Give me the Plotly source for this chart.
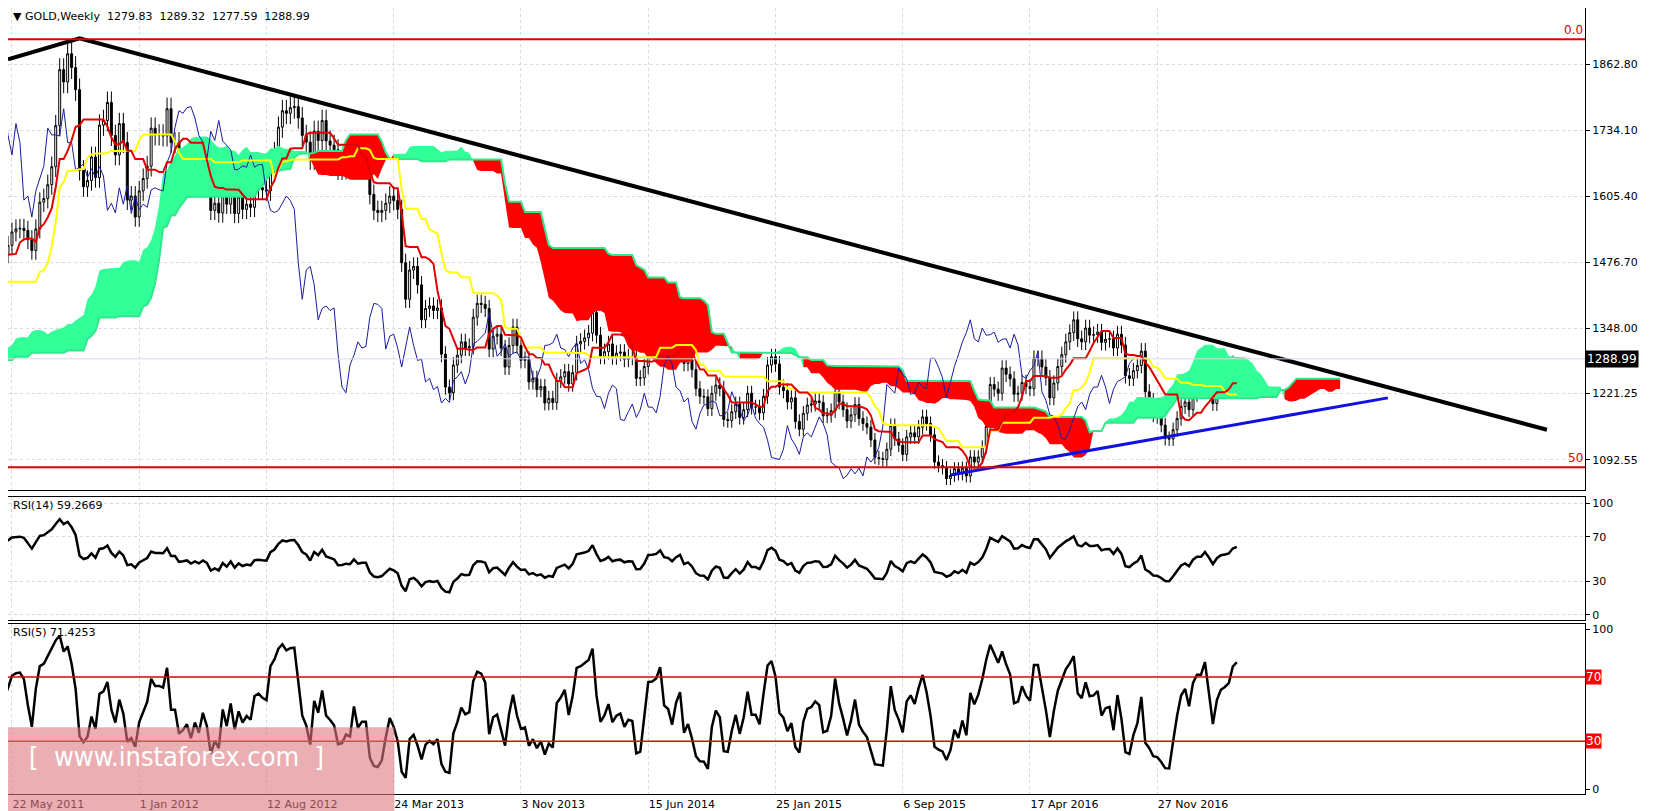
import numpy as np
import pandas as pd
import plotly.graph_objects as go
from plotly.subplots import make_subplots

# weekly closes; c2010 is the history before the visible window (from 23 May 2010),
# needed for the cloud and RSI that already run at the left edge
c2010 = [1178, 1216, 1218, 1256, 1256, 1209, 1210, 1209, 1188, 1183, 1204, 1215, 1228, 1236, 1246, 1246,
         1275, 1296, 1318, 1345, 1369, 1328, 1341, 1393, 1366, 1352, 1362, 1405, 1384, 1379, 1379, 1421,
         1369, 1360, 1342, 1319, 1349, 1362, 1388, 1409, 1429, 1421, 1426, 1428, 1429, 1474, 1486, 1504,
         1556, 1490, 1493, 1510]
c2011 = [1536, 1542, 1543, 1539, 1521, 1500, 1542, 1594, 1601, 1628, 1663, 1743, 1852, 1828, 1883, 1856,
         1813, 1656, 1624, 1636, 1682, 1642, 1744, 1753, 1788, 1724, 1686, 1747, 1710, 1598, 1606, 1565]
c2012 = [1616, 1640, 1664, 1738, 1725, 1725, 1723, 1776, 1710, 1710, 1657, 1662, 1669, 1642, 1659, 1642,
         1663, 1645, 1578, 1592, 1573, 1622, 1590, 1627, 1572, 1604, 1580, 1590, 1584, 1618, 1622, 1618,
         1616, 1671, 1691, 1740, 1772, 1767, 1778, 1780, 1758, 1724, 1711, 1677, 1732, 1714, 1753, 1713,
         1705, 1696, 1657, 1658, 1665]
c2013 = [1662, 1686, 1662, 1667, 1667, 1609, 1578, 1574, 1578, 1592, 1606, 1597, 1580, 1476, 1405, 1462,
         1469, 1433, 1365, 1387, 1392, 1383, 1388, 1298, 1234, 1223, 1277, 1296, 1322, 1310, 1313, 1370,
         1397, 1395, 1387, 1308, 1333, 1337, 1310, 1273, 1315, 1351, 1315, 1286, 1288, 1244, 1251, 1229,
         1235, 1203, 1212, 1204]
c2014 = [1247, 1254, 1264, 1240, 1262, 1318, 1323, 1330, 1339, 1379, 1335, 1294, 1303, 1318, 1293, 1300,
         1302, 1288, 1293, 1292, 1251, 1252, 1274, 1315, 1316, 1320, 1337, 1310, 1307, 1293, 1310, 1320,
         1280, 1287, 1268, 1231, 1216, 1215, 1192, 1222, 1238, 1231, 1171, 1169, 1186, 1201, 1175, 1190,
         1222, 1195, 1195, 1184]
c2015 = [1216, 1277, 1293, 1279, 1234, 1227, 1205, 1213, 1167, 1152, 1183, 1199, 1201, 1207, 1204, 1178,
         1179, 1188, 1225, 1205, 1190, 1168, 1180, 1200, 1173, 1163, 1156, 1131, 1097, 1095, 1093, 1113,
         1159, 1133, 1121, 1103, 1137, 1145, 1137, 1156, 1176, 1163, 1141, 1088, 1081, 1077, 1056, 1062,
         1075, 1065, 1076, 1061]
c2016 = [1098, 1088, 1098, 1117, 1158, 1239, 1230, 1222, 1271, 1259, 1250, 1220, 1222, 1243, 1235, 1231,
         1290, 1290, 1273, 1252, 1213, 1242, 1274, 1297, 1322, 1340, 1365, 1328, 1322, 1349, 1335, 1336,
         1341, 1321, 1327, 1328, 1310, 1337, 1316, 1256, 1251, 1266, 1276, 1304, 1225, 1208, 1180, 1177,
         1160, 1134, 1133, 1151]
c2017 = [1173, 1196, 1205, 1190, 1220, 1234, 1234, 1257, 1234, 1202, 1230, 1245, 1249, 1254, 1280, 1288.99]
last_bar = [1279.83, 1289.32, 1277.59, 1288.99]

price_ticks = [1862.80, 1734.10, 1605.40, 1476.70, 1348.00, 1221.25, 1092.55]
date_ticks = ["2011-05-22", "2012-01-01", "2012-08-12", "2013-03-24", "2013-11-03", "2014-06-15",
              "2015-01-25", "2015-09-06", "2016-04-17", "2016-11-27"]
date_text = ["22 May 2011", "1 Jan 2012", "12 Aug 2012", "24 Mar 2013", "3 Nov 2013", "15 Jun 2014",
             "25 Jan 2015", "6 Sep 2015", "17 Apr 2016", "27 Nov 2016"]

trend_dates = ["2011-05-15", "2011-09-18", "2018-10-14"]
trend_prices = [1872, 1913, 1151]
support_dates = ["2015-11-29", "2018-01-07"]
support_prices = [1063, 1213]
fib_levels = [1911, 1078]
fib_names = ["0.0", "50"]
rsi14_last, rsi5_last = 59.2669, 71.4253

close = pd.Series(c2010 + c2011 + c2012 + c2013 + c2014 + c2015 + c2016 + c2017, dtype=float)
dates = pd.date_range("2010-05-23", periods=len(close), freq="W-SUN")
opn = close.shift(1).fillna(close.iloc[0])
opn.iloc[-1] = last_bar[0]
high = np.maximum(opn, close) * 1.012
low = np.minimum(opn, close) * 0.988
high.iloc[-1], low.iloc[-1] = last_bar[1], last_bar[2]

# ichimoku
def mid(n):
    return (high.rolling(n, min_periods=1).max() + low.rolling(n, min_periods=1).min()) / 2
tenkan = mid(9)
kijun = mid(26)
fut = pd.date_range(dates[0], periods=len(close) + 26, freq="W-SUN")
span_a = pd.Series(np.r_[[np.nan] * 26, ((tenkan + kijun) / 2).values])
span_b = pd.Series(np.r_[[np.nan] * 26, mid(52).values])
chikou = close.shift(-26)

def rsi(s, n):
    d = s.diff()
    up = d.clip(lower=0).ewm(alpha=1 / n, adjust=False).mean()
    dn = (-d.clip(upper=0)).ewm(alpha=1 / n, adjust=False).mean()
    return 100 - 100 / (1 + up / dn)

fig = make_subplots(rows=3, cols=1, shared_xaxes=True)

# cloud
ok = span_a.notna() & span_b.notna()
idx = np.where(ok)[0]
runs = []
start = idx[0]
for i in range(idx[0] + 1, idx[-1] + 2):
    if i > idx[-1] or (span_a[i] >= span_b[i]) != (span_a[start] >= span_b[start]):
        runs.append((start, min(i, idx[-1])))
        start = i
for s, e in runs:
    xs = list(fut[s:e + 1]) + list(fut[s:e + 1][::-1])
    ys = list(span_a[s:e + 1]) + list(span_b[s:e + 1][::-1])
    green = span_a[s] >= span_b[s]
    fig.add_trace(go.Scatter(x=xs, y=ys, fill="toself", mode="lines",
                             fillcolor="#33FF99" if green else "#FF0000",
                             line=dict(width=0), hoverinfo="skip", showlegend=False), 1, 1)
fig.add_trace(go.Scatter(x=fut, y=span_b, mode="lines", line=dict(color="#2EE88A", width=2), showlegend=False), 1, 1)

fig.add_trace(go.Scatter(x=dates, y=chikou, mode="lines", line=dict(color="#1A1AA0", width=1), showlegend=False), 1, 1)
fig.add_trace(go.Scatter(x=dates, y=kijun, mode="lines", line=dict(color="#FFFF00", width=2), showlegend=False), 1, 1)
fig.add_trace(go.Scatter(x=dates, y=tenkan, mode="lines", line=dict(color="#E00000", width=2), showlegend=False), 1, 1)

fig.add_trace(go.Candlestick(x=dates, open=opn, high=high, low=low, close=close,
                             increasing=dict(line=dict(color="black", width=1), fillcolor="white"),
                             decreasing=dict(line=dict(color="black", width=1), fillcolor="black"),
                             whiskerwidth=0, showlegend=False), 1, 1)

fig.add_trace(go.Scatter(x=trend_dates, y=trend_prices, mode="lines", line=dict(color="black", width=4), showlegend=False), 1, 1)
fig.add_trace(go.Scatter(x=support_dates, y=support_prices, mode="lines", line=dict(color="#1010E0", width=3), showlegend=False), 1, 1)

fig.add_trace(go.Scatter(x=dates, y=rsi(close, 14), mode="lines", line=dict(color="black", width=2.5), showlegend=False), 2, 1)
fig.add_trace(go.Scatter(x=dates, y=rsi(close, 5), mode="lines", line=dict(color="black", width=2.5), showlegend=False), 3, 1)

for lvl, name in zip(fib_levels, fib_names):
    fig.add_hline(y=lvl, line=dict(color="#E00000", width=2), row=1, col=1)
    fig.add_annotation(x=1, y=lvl, xref="paper", yref="y", text=name, showarrow=False,
                       xanchor="right", yanchor="bottom", font=dict(color="#E00000", size=12))
fig.add_hline(y=close.iloc[-1], line=dict(color="#D8D8E8", width=1), row=1, col=1)
for lvl in [70, 30]:
    fig.add_hline(y=lvl, line=dict(color="#E00000", width=1.5), row=3, col=1)
    fig.add_annotation(x=1, y=lvl, xref="paper", yref="y3", text=str(lvl), showarrow=False,
                       xanchor="left", bgcolor="#FF0000", font=dict(color="white", size=12), borderpad=0)

fig.add_annotation(x=1, y=close.iloc[-1], xref="paper", yref="y", text=f"{close.iloc[-1]:.2f}",
                   showarrow=False, xanchor="left", bgcolor="black", font=dict(color="white", size=12), borderpad=1)

hdr = "▼ GOLD,Weekly  " + "  ".join(f"{v:.2f}" for v in last_bar)
fig.add_annotation(x=0.002, y=1, xref="paper", yref="paper", text=hdr, showarrow=False,
                   xanchor="left", yanchor="top", font=dict(size=11, color="black"))
fig.add_annotation(x=0.002, y=0.378, xref="paper", yref="paper", text=f"RSI(14) {rsi14_last}", showarrow=False,
                   xanchor="left", yanchor="top", font=dict(size=11, color="black"))
fig.add_annotation(x=0.002, y=0.216, xref="paper", yref="paper", text=f"RSI(5) {rsi5_last}", showarrow=False,
                   xanchor="left", yanchor="top", font=dict(size=11, color="black"))

# watermark
fig.add_shape(type="rect", xref="paper", yref="paper", x0=0, x1=0.245, y0=-0.032, y1=0.085,
              fillcolor="rgba(222,120,128,0.6)", line=dict(width=0), layer="above")
fig.add_annotation(x=0.012, y=0.025, xref="paper", yref="paper", text="[  www.instaforex.com  ]",
                   showarrow=False, xanchor="left", font=dict(size=27, color="white", family="Liberation Sans Narrow, DejaVu Sans Condensed"))

grid = dict(showgrid=True, gridcolor="#D8D8E0", griddash="dot", gridwidth=1)
fig.update_xaxes(range=["2011-05-15", "2018-12-20"], tickvals=date_ticks, ticktext=date_text,
                 showline=True, linecolor="black", mirror=True, rangeslider_visible=False,
                 ticks="", **grid)
fig.update_xaxes(ticklabelposition="outside right", row=3, col=1)
fig.update_yaxes(side="right", showline=True, linecolor="black", mirror=True, ticks="outside",
                 ticklen=4, tickcolor="black", zeroline=False, tickfont=dict(size=11), **grid)
fig.update_yaxes(range=[1034, 1972], tickvals=price_ticks, tickformat=".2f", domain=[0.387, 1], row=1, col=1)
fig.update_yaxes(range=[-5, 106], tickvals=[0, 30, 70, 100], domain=[0.221, 0.378], row=2, col=1)
fig.update_yaxes(range=[-3, 103], tickvals=[0, 100], showgrid=False, domain=[0, 0.216], row=3, col=1)
fig.update_layout(width=1657, height=811, margin=dict(l=0, r=80, t=0, b=25),
                  plot_bgcolor="white", paper_bgcolor="white",
                  font=dict(family="DejaVu Sans", size=11, color="black"))
fig.write_html("out.html")
